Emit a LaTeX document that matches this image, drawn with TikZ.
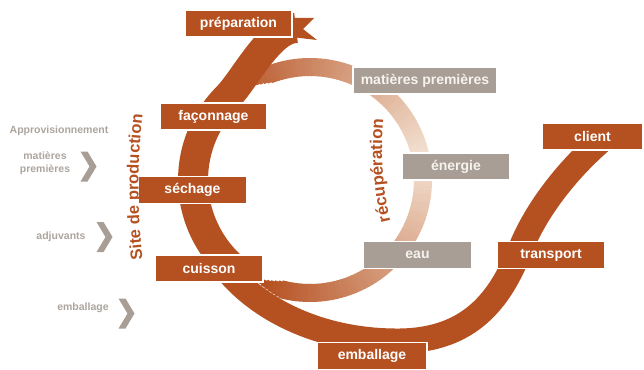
\documentclass[tikz,border=0pt]{standalone}
\usepackage{fontspec}
\setmainfont{Liberation Sans}
\usetikzlibrary{decorations.text}
\definecolor{rust}{RGB}{181,80,32}
\definecolor{stone}{RGB}{168,158,149}
\definecolor{ashtext}{RGB}{172,165,158}
\definecolor{ringlight}{RGB}{244,227,212}
\definecolor{paletext}{RGB}{246,242,238}
\tikzset{
  stage/.style={fill=rust, draw=white, line width=1.2pt, text=white,
    font=\bfseries\fontsize{14}{14}\selectfont, minimum height=27pt, inner sep=0pt},
  recup/.style={stage, fill=stone, text=paletext},
  supply/.style={text=ashtext, font=\bfseries\fontsize{10.5}{12.5}\selectfont, align=center},
  chev/.pic={\fill[stone] (-8,15) -- (-1,15) -- (8,0) -- (-1,-15) -- (-8,-15) -- (1,0) -- cycle;}
}
\begin{document}
\begin{tikzpicture}[x=1pt,y=1pt]
    \useasboundingbox (0,0) rectangle (644,-369);
    \coordinate (ctr) at (310,-180);
    % recuperation ring
    \foreach \a in {-119,-117,...,123} {
      \pgfmathsetmacro\w{18*max(0,min(1,(\a+121)/16,(125-\a)/16))}
      \pgfmathtruncatemacro\f{100*max(0,1-abs(\a-10)/125)}
      \draw [line width=\w pt, color=ringlight!\f!rust] ([shift={(\a:113)}]ctr) arc [start angle=\a, end angle=\a+2.4, radius=113];
    }
    % production band
    \draw [rust, line width=30pt] (296,-28) .. controls (270,-28) and (244.3,-80.3) .. (227.3,-97.3)
      arc [start angle=135, end angle=228, radius=117];
    \draw [rust, line width=25pt] (206,-233) .. controls (225,-290) and (300,-342) .. (400,-341)
      .. controls (470,-340) and (500,-300) .. (520,-250)
      .. controls (535,-212) and (565,-172) .. (602,-140);
    \fill [rust] (291,-18) -- (314,-18) -- (303,-29) -- (317,-40) -- (291,-37) -- cycle;
    % stages
    \node [stage, minimum width=107pt] (prep) at (238.5,-23.5) {préparation};
    \node [stage, minimum width=107pt] (faco) at (213.5,-116.5) {façonnage};
    \node [stage, minimum width=109pt] (sech) at (192.5,-190) {séchage};
    \node [stage, minimum width=108pt] (cuis) at (209,-268.5) {cuisson};
    \node [stage, minimum width=110pt] (emba) at (372,-356) {emballage};
    \node [stage, minimum width=108pt] (tran) at (551,-255) {transport};
    \node [stage, minimum width=101pt] (clie) at (592.5,-136.5) {client};
    \node [recup, minimum width=144pt] (mpre) at (425,-80.5) {matières premières};
    \node [recup, minimum width=108pt] (ener) at (456,-166.5) {énergie};
    \node [recup, minimum width=109pt] (eau) at (417.5,-255) {eau};
    % supply side
    \node [supply] (appro) at (59,-131) {Approvisionnement};
    \node [supply] (smat) at (45,-163) {matières\\premières};
    \node [supply] (sadj) at (61,-237) {adjuvants};
    \node [supply] (semb) at (83,-308) {emballage};
    \pic (cmat) at (88.5,-166.5) {chev};
    \pic (cadj) at (104.5,-237) {chev};
    \pic (cemb) at (126.5,-313.5) {chev};
    % curved labels
    \path [decorate, decoration={text along path, text align=center,
      text={|\fontsize{16.5}{16.5}\bfseries\color{rust}|Site de production}}]
      (143,-262) .. controls (137,-212) and (137,-162) .. (143,-112);
    \path [decorate, decoration={text along path, text align=center,
      text={|\fontsize{17}{17}\bfseries\color{rust}|récupération}}]
      (392,-228) .. controls (382,-190) and (380,-150) .. (384,-112);
  \end{tikzpicture}
\end{document}
